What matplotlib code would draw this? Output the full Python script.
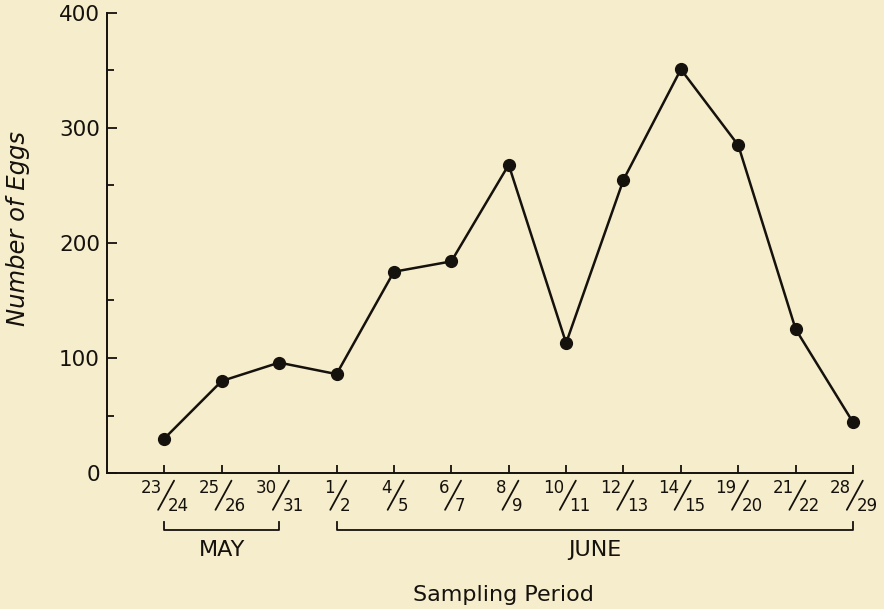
import matplotlib
matplotlib.use("Agg")
import matplotlib.pyplot as plt
from matplotlib.transforms import offset_copy

# sampling periods (day pairs) and counts
numerators = ["23", "25", "30", "1", "4", "6", "8", "10", "12", "14", "19", "21", "28"]
denominators = ["24", "26", "31", "2", "5", "7", "9", "11", "13", "15", "20", "22", "29"]
eggs = [30, 80, 96, 86, 175, 184, 268, 113, 255, 351, 285, 125, 44]
months = ["MAY", "JUNE"]
month_spans = [(0, 2), (3, 12)]

bg = "#f6edcc"
ink = "#15110d"

plt.rcParams['font.family'] = ['DejaVu Sans']
fig = plt.figure(figsize=(8.84, 6.09), dpi=100, facecolor=bg)
ax = fig.add_axes([0.121, 0.2233, 0.844, 0.7554], facecolor=bg)

x = list(range(len(eggs)))
ax.plot(x, eggs, color=ink, lw=1.8, marker='o', ms=8.5, mfc=ink, mec=ink,
        zorder=3, clip_on=False)

ax.set_xlim(-1, 12)
ax.set_ylim(0, 400)
for s in ['top', 'right']:
    ax.spines[s].set_visible(False)
for s in ['left', 'bottom']:
    ax.spines[s].set_color(ink)
    ax.spines[s].set_linewidth(1.4)

ax.set_yticks([0, 100, 200, 300, 400])
ax.set_yticks([50, 150, 250, 350], minor=True)
ax.tick_params(axis='y', which='major', direction='in', length=7.5, width=1.3, color=ink,
               labelsize=15.5, labelcolor=ink, pad=5)
ax.tick_params(axis='y', which='minor', direction='in', length=5, width=1.3, color=ink)
ax.set_xticks(x)
ax.set_xticklabels([])
ax.tick_params(axis='x', direction='in', length=6, width=1.3, color=ink)

# fraction style tick labels: numerator, slanted stroke, denominator
xt = ax.get_xaxis_transform()
slash_start = offset_copy(xt, fig=fig, x=-4.5, y=-26.5, units='points')
for i in x:
    ax.annotate(numerators[i], xy=(i, 0), xycoords=('data', 'axes fraction'),
                xytext=(-1.5, -4), textcoords='offset points', ha='right', va='top',
                fontsize=12, color=ink)
    ax.annotate(denominators[i], xy=(i, 0), xycoords=('data', 'axes fraction'),
                xytext=(2.5, -17), textcoords='offset points', ha='left', va='top',
                fontsize=12, color=ink)
    ax.annotate("", xy=(i, 0), xycoords=slash_start,
                xytext=(11.5, 21), textcoords='offset points',
                arrowprops=dict(arrowstyle='-', color=ink, lw=1.3,
                                shrinkA=0, shrinkB=0))

# month brackets
for name, (a, b) in zip(months, month_spans):
    ax.plot([a, a, b, b], [-0.107, -0.124, -0.124, -0.107], color=ink, lw=1.3,
            transform=xt, clip_on=False)
    ax.text((a + b) / 2, -0.167, name, transform=xt,
            ha='center', va='center', fontsize=16, color=ink)

fig.text(503 / 884, 1 - 595 / 609, "Sampling Period", ha='center', va='center',
         fontsize=16, color=ink)
fig.text(18 / 884, 1 - 229 / 609, "Number of Eggs", ha='center', va='center',
         rotation=90, fontsize=17.5, style='italic', color=ink)

fig.savefig("out.png", dpi=100, facecolor=bg)
